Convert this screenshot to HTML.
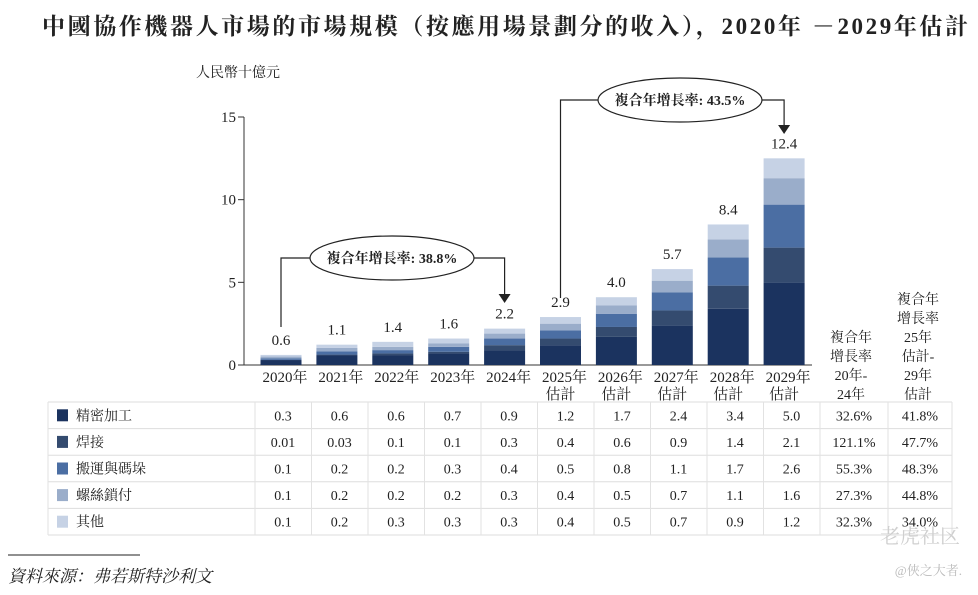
<!DOCTYPE html>
<html><head><meta charset="utf-8"><style>
body{margin:0;background:#fff;width:978px;height:590px;overflow:hidden}
svg text{font-family:"Liberation Serif","Noto Serif CJK SC","Noto Sans CJK TC",serif;fill:#222}
</style></head><body>
<svg id="c" width="978" height="590"></svg>
<script>
const years=["2020年","2021年","2022年","2023年","2024年","2025年","2026年","2027年","2028年","2029年"];
const est=[false,false,false,false,false,true,true,true,true,true];
const totals=["0.6","1.1","1.4","1.6","2.2","2.9","4.0","5.7","8.4","12.4"];
const seriesNames=["精密加工","焊接","搬運與碼垛","螺絲鎖付","其他"];
const s1=[0.3,0.6,0.6,0.7,0.9,1.2,1.7,2.4,3.4,5.0];
const s2=[0.01,0.03,0.1,0.1,0.3,0.4,0.6,0.9,1.4,2.1];
const s3=[0.1,0.2,0.2,0.3,0.4,0.5,0.8,1.1,1.7,2.6];
const s4=[0.1,0.2,0.2,0.2,0.3,0.4,0.5,0.7,1.1,1.6];
const s5=[0.1,0.2,0.3,0.3,0.3,0.4,0.5,0.7,0.9,1.2];
const s1t=["0.3","0.6","0.6","0.7","0.9","1.2","1.7","2.4","3.4","5.0"];
const s2t=["0.01","0.03","0.1","0.1","0.3","0.4","0.6","0.9","1.4","2.1"];
const s3t=["0.1","0.2","0.2","0.3","0.4","0.5","0.8","1.1","1.7","2.6"];
const s4t=["0.1","0.2","0.2","0.2","0.3","0.4","0.5","0.7","1.1","1.6"];
const s5t=["0.1","0.2","0.3","0.3","0.3","0.4","0.5","0.7","0.9","1.2"];
const cagr1=["32.6%","121.1%","55.3%","27.3%","32.3%"];
const cagr2=["41.8%","47.7%","48.3%","44.8%","34.0%"];
const yTicks=[0,5,10,15];
const colors=["#1b335f","#344b6f","#4b6ea3","#9aadca","#c6d2e5"];
const NS="http://www.w3.org/2000/svg",svg=document.getElementById('c');
function el(t,a,txt){const e=document.createElementNS(NS,t);for(const k in a)e.setAttribute(k,a[k]);if(txt!==undefined)e.textContent=txt;svg.appendChild(e);return e;}
const y=v=>365-v*248/15;
const x=i=>281+i*55.9;
const bw=41;
let t=el('text',{x:42,y:34,'font-size':23,'font-weight':'bold',textLength:926,lengthAdjust:'spacing'},"中國協作機器人市場的市場規模（按應用場景劃分的收入），2020年 －2029年估計");

t=el('text',{x:196,y:77,'font-size':14},"人民幣十億元");

let a=el('line',{x1:244,x2:244,y1:y(15),y2:y(0),stroke:'#333'});

a=el('line',{x1:244,x2:812,y1:y(0),y2:y(0),stroke:'#333'});

yTicks.forEach(v=>{
 let l=el('line',{x1:238,x2:244,y1:y(v),y2:y(v),stroke:'#333'});
 
 let tt=el('text',{x:236,y:y(v)+5,'font-size':15,'text-anchor':'end'},v);
 
});
const series=[s1,s2,s3,s4,s5];
years.forEach((yr,i)=>{
 let base=0;
 series.forEach((s,k)=>{
  const r=el('rect',{x:x(i)-bw/2,y:y(base+s[i]),width:bw,height:y(base)-y(base+s[i]),fill:colors[k]});
  
  base+=s[i];
 });
 let tl=el('text',{x:x(i),y:y(base)-10,'font-size':15,'text-anchor':'middle'},totals[i]);
 
 let xl=el('text',{x:x(i)+4,y:382,'font-size':15,'text-anchor':'middle'},yr);
 
 if(est[i]){let e2=el('text',{x:x(i),y:399,'font-size':15,'text-anchor':'middle'},"估計");
 }
});
function callout(xa,xb,ytop,ystart,yarrow,cx,label,name){
 const g=el('path',{d:`M${xa},${ystart}V${ytop}H${cx-82}M${cx+82},${ytop}H${xb}V${yarrow-8}`,fill:'none',stroke:'#222','stroke-width':1.2});
 
 const p=el('polygon',{points:`${xb-6},${yarrow-9} ${xb+6},${yarrow-9} ${xb},${yarrow}`,fill:'#222'});
 
 const e=el('ellipse',{cx:cx,cy:ytop,rx:82,ry:22,fill:'#fff',stroke:'#222','stroke-width':1.2});
 
 const tx=el('text',{x:cx,y:ytop+5,'font-size':14,'font-weight':'bold','text-anchor':'middle',fill:'#1b335f'},label);
 
}
callout(x(0),x(4),258,327,303,392,"複合年增長率: 38.8%","cagr-callout-1");
callout(x(5),x(9),100,298,134,680,"複合年增長率: 43.5%","cagr-callout-2");
const h1=["複合年","增長率","20年-","24年"];
h1.forEach((s,i)=>{let h=el('text',{x:851,y:342+i*19,'font-size':14,'text-anchor':'middle'},s);});
const h2=["複合年","增長率","25年","估計-","29年","估計"];
h2.forEach((s,i)=>{let h=el('text',{x:918,y:304+i*19,'font-size':14,'text-anchor':'middle'},s);});
const rowTexts=[s1t,s2t,s3t,s4t,s5t];
const r0=402,rh=26.6;
const colB=[48,255];for(let i=1;i<=10;i++)colB.push(255+i*56.5);colB.push(888,952);
for(let r=0;r<=5;r++){let l=el('line',{x1:48,x2:952,y1:r0+r*rh,y2:r0+r*rh,stroke:'#ddd'});}
colB.forEach(cx=>{let l=el('line',{x1:cx,x2:cx,y1:r0,y2:r0+5*rh,stroke:'#e2e2e2'});});
seriesNames.forEach((n,r)=>{
 const cy=r0+r*rh+rh/2;
 let sw=el('rect',{x:57,y:cy-6,width:11,height:12,fill:colors[r]});
 
 let nt=el('text',{x:76,y:cy+5,'font-size':14},n);
 
 rowTexts[r].forEach((v,i)=>{let c=el('text',{x:283+i*56.5,y:cy+5,'font-size':14,'text-anchor':'middle'},v);});
 let c1=el('text',{x:854,y:cy+5,'font-size':14,'text-anchor':'middle'},cagr1[r]);
 let c2=el('text',{x:920,y:cy+5,'font-size':14,'text-anchor':'middle'},cagr2[r]);
});
let fl=el('line',{x1:8,x2:140,y1:555,y2:555,stroke:'#222'});
let src=el('text',{x:8,y:582,'font-size':17,'font-style':'italic'},"資料來源：弗若斯特沙利文");
let wm=el('text',{x:960,y:543,'font-size':20,'text-anchor':'end',style:'fill:#cfcfcf'},"老虎社区");
let wm2=el('text',{x:962,y:575,'font-size':13,'text-anchor':'end',style:'fill:#bbb'},"@俠之大者.");
</script>
</body></html>
